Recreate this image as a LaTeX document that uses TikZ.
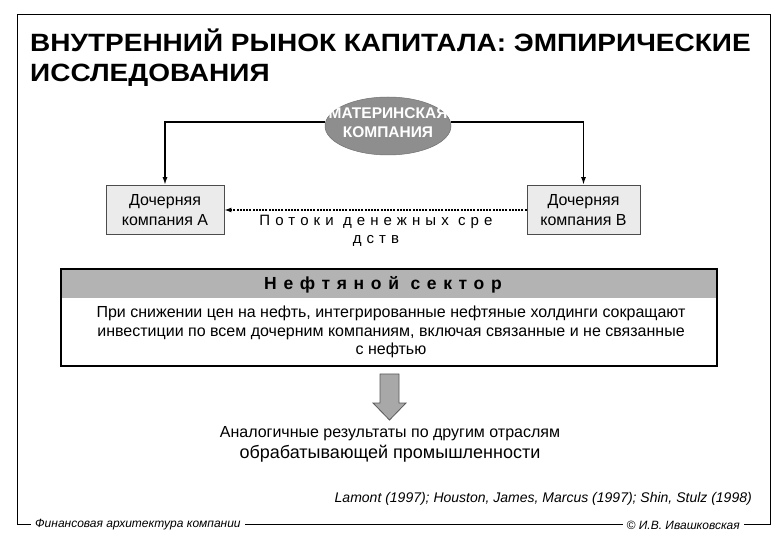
\documentclass[tikz,border=0pt]{standalone}
\usepackage{fontspec}
\setmainfont{Liberation Sans}
\usetikzlibrary{arrows.meta,shapes.geometric}
\definecolor{ellgray}{HTML}{8E8E8E}
\definecolor{boxgray}{HTML}{EBEBEB}
\definecolor{bandgray}{HTML}{B3B3B3}
\definecolor{arrgray}{HTML}{A8A8A8}
\tikzset{
  frame/.style={line width=1pt, draw=black},
  subbox/.style={draw=black!70, line width=0.8pt, fill=boxgray, minimum width=118pt, minimum height=49pt, inner sep=0pt, align=center, font=\fontsize{16}{20}\selectfont},
  conn/.style={line width=1.8pt, -{Latex[length=8pt,width=5pt]}},
  flow/.style={line width=2pt, dash pattern=on 2pt off 1.2pt, -{Latex[length=7pt,width=5pt]}},
  bodytxt/.style={font=\fontsize{16}{18.5}\selectfont, inner sep=0pt, align=center},
  foot/.style={fill=white, inner xsep=4pt, inner ysep=1pt, font=\fontsize{12}{14}\selectfont\itshape}
}
\begin{document}
\begin{tikzpicture}[x=1pt,y=-1pt]
\useasboundingbox (0,0) rectangle (780,540);
\fill[white] (0,0) rectangle (780,540);
% outer frame
\draw[frame] (17,524) -- (17,15) -- (770,15) -- (770,524) -- cycle;
% title
\node[anchor=base west, inner sep=0pt, font=\fontsize{25}{30}\selectfont\bfseries] (t1) at (30,52) {\scalebox{1.12}[1]{ВНУТРЕННИЙ РЫНОК КАПИТАЛА: ЭМПИРИЧЕСКИЕ}};
\node[anchor=base west, inner sep=0pt, font=\fontsize{25}{30}\selectfont\bfseries] (t2) at (30,82) {\scalebox{1.12}[1]{ИССЛЕДОВАНИЯ}};
% parent company
\node[ellipse, fill=ellgray, draw=ellgray!80!black, line width=0.5pt, minimum width=126pt, minimum height=58pt, inner sep=0pt] (mc) at (388,126) {};
\node[inner sep=0pt, align=center, text=white, font=\fontsize{15.5}{19}\selectfont\bfseries] (mct) at (388,123) {МАТЕРИНСКАЯ\\КОМПАНИЯ};
% subsidiaries
\node[subbox] (a) at (165,210) {Дочерняя\\компания А};
\node[subbox, minimum width=113pt] (b) at (583.5,210) {Дочерняя\\компания В};
\draw[conn] ([yshift=4pt]mc.west) -| (a.north);
\draw[conn] ([yshift=4pt]mc.east) -| (b.north);
\draw[flow] (b.west) -- (a.east);
\node[inner sep=0pt, align=center, font=\fontsize{15}{18}\selectfont\addfontfeature{LetterSpace=34}] (fl) at (376,231) {Потоки денежных сре\\дств};
% oil sector box
\fill[bandgray] (61,269) rectangle (717,298);
\draw[line width=2.5pt] (61,269) rectangle (717,366);
\node[inner sep=0pt, font=\fontsize{17.5}{18}\selectfont\bfseries\addfontfeature{LetterSpace=38}] (ns) at (383,285) {Нефтяной сектор};
\node[bodytxt] (nb) at (391,332) {При снижении цен на нефть, интегрированные нефтяные холдинги сокращают\\инвестиции по всем дочерним компаниям, включая связанные и не связанные\\с нефтью};
% big arrow
\draw[fill=arrgray, draw=black!65, line width=0.8pt] (380,374) -- (399,374) -- (399,403) -- (406,403) -- (389.5,420) -- (373,403) -- (380,403) -- cycle;
\node[inner sep=0pt, font=\fontsize{16}{18}\selectfont] (an1) at (390,434) {Аналогичные результаты по другим отраслям};
\node[inner sep=0pt, font=\fontsize{18}{20}\selectfont] (an2) at (390,454) {обрабатывающей промышленности};
% citation
\node[anchor=base east, inner sep=0pt, font=\fontsize{14}{16}\selectfont\itshape] (cit) at (752,502) {Lamont (1997); Houston, James, Marcus (1997); Shin, Stulz (1998)};
% footer
\node[foot, anchor=west] (f1) at (31,525) {Финансовая архитектура компании};
\node[foot, anchor=east] (f2) at (744,525) {© И.В. Ивашковская};
\end{tikzpicture}
\end{document}
